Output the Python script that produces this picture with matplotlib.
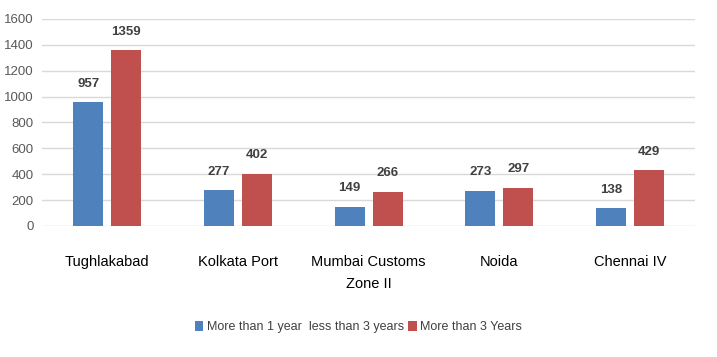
import matplotlib
matplotlib.use("Agg")
import matplotlib.pyplot as plt
import numpy as np

categories = ["Tughlakabad", "Kolkata Port", "Mumbai Customs\nZone II", "Noida", "Chennai IV"]
series_names = ["More than 1 year  less than 3 years", "More than 3 Years"]
vals_1to3 = [957, 277, 149, 273, 138]
vals_3plus = [1359, 402, 266, 297, 429]
yticks = [0, 200, 400, 600, 800, 1000, 1200, 1400, 1600]

plt.rcParams['font.family'] = ['Liberation Sans', 'DejaVu Sans']

fig = plt.figure(figsize=(7.17, 3.57), dpi=100)
ax = fig.add_axes([0.0586, 0.367, 0.911, 0.580])

x = np.arange(len(categories))
w = 0.23
gap = 0.06
blue = "#4F81BD"
red = "#C0504D"
b1 = ax.bar(x - (w + gap) / 2, vals_1to3, width=w, color=blue, label=series_names[0], zorder=3)
b2 = ax.bar(x + (w + gap) / 2, vals_3plus, width=w, color=red, label=series_names[1], zorder=3)

for bars in (b1, b2):
    ax.bar_label(bars, padding=9, fontsize=9.5, fontweight='bold', color='#404040')

ax.set_xlim(-0.5, len(categories) - 0.5)
ax.set_ylim(0, 1600)
ax.set_yticks(yticks)
ax.set_yticklabels([str(t) for t in yticks], fontsize=9.5, color='#595959')
ax.set_xticks(x)
ax.set_xticklabels(categories, fontsize=10.5, color='black', linespacing=1.75)
ax.tick_params(axis='both', length=0)
ax.tick_params(axis='x', pad=21)
ax.tick_params(axis='y', pad=6)
ax.grid(axis='y', color='#D9D9D9', linewidth=1, zorder=0)
for s in ax.spines.values():
    s.set_visible(False)

fig.legend(loc='lower center', bbox_to_anchor=(0.5, 0.035), ncol=2, frameon=False,
           fontsize=9, handlelength=0.7, handleheight=0.8, handletextpad=0.3,
           columnspacing=0.3, labelcolor='#404040')

fig.savefig("out.png", dpi=100)
